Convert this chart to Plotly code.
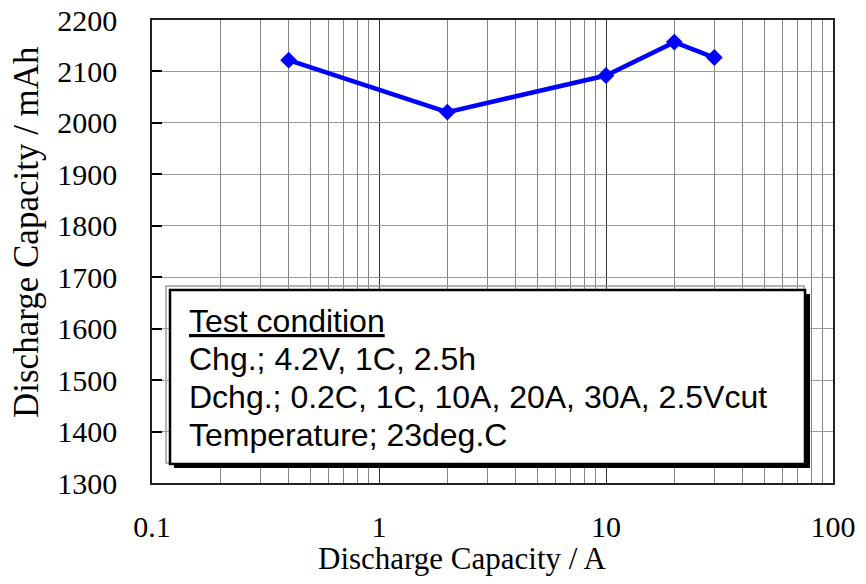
import plotly.graph_objects as go

# ---- data ----
current_A = [0.4, 2, 10, 20, 30]
capacity_mAh = [2122, 2021, 2092, 2157, 2127]

x_tickvals = [0.1, 1, 10, 100]
x_ticktext = ["0.1", "1", "10", "100"]
y_range = [1300, 2200]

box_lines = [
    "<u>Test condition</u>",
    "Chg.; 4.2V, 1C, 2.5h",
    "Dchg.; 0.2C, 1C, 10A, 20A, 30A, 2.5Vcut",
    "Temperature; 23deg.C",
]

# ---- layout geometry (page pixels; page body has an 8px margin) ----
OFF = 8
W, H = 866 - OFF, 584 - OFF
L, R, T, B = 152, 833, 20, 483  # plot area in page pixels


def px(x):
    return (x - L) / (R - L)


def py(y):
    return (B - y) / (B - T)


SERIF = "Liberation Serif, Times New Roman, serif"
SANS = "Liberation Sans, Arial, sans-serif"

fig = go.Figure()
fig.add_trace(go.Scatter(
    x=current_A, y=capacity_mAh, mode="lines+markers",
    line=dict(color="#0000FF", width=4.5),
    marker=dict(symbol="diamond", size=13, color="#0000FF"),
    showlegend=False, cliponaxis=False,
))

fig.update_layout(
    width=W, height=H,
    margin=dict(l=L - OFF, r=866 - R, t=T - OFF, b=584 - B, autoexpand=False),
    paper_bgcolor="white", plot_bgcolor="white",
    xaxis=dict(
        type="log", range=[-1, 2], automargin=False,
        tickvals=x_tickvals, ticktext=x_ticktext,
        showgrid=True, gridcolor="#333333", gridwidth=1,
        minor=dict(dtick="D1", showgrid=True, gridcolor="#858585", gridwidth=1),
        showline=True, linecolor="#222", linewidth=1.5, mirror=True,
        ticks="", tickfont=dict(family=SERIF, size=30, color="black"),
        ticklabelstandoff=16, ticklabeloverflow="allow", zeroline=False,
    ),
    yaxis=dict(
        range=y_range, dtick=100, automargin=False,
        showgrid=True, gridcolor="#9a9a9a", gridwidth=1,
        showline=True, linecolor="#222", linewidth=1.5, mirror=True,
        ticks="inside", ticklen=10, tickwidth=1.5, tickcolor="black",
        tickfont=dict(family=SERIF, size=30, color="black"),
        ticklabelstandoff=27, ticklabeloverflow="allow", zeroline=False,
    ),
)

# text box (gray outline, black shadow, white box)
fig.add_shape(type="rect", xref="paper", yref="paper",
              x0=px(166), x1=px(804), y0=py(463), y1=py(286),
              line=dict(color="#9a9a9a", width=1.5), fillcolor="rgba(0,0,0,0)")
fig.add_shape(type="rect", xref="paper", yref="paper",
              x0=px(174), x1=px(810), y0=py(468), y1=py(294),
              line=dict(width=0), fillcolor="black")
fig.add_shape(type="rect", xref="paper", yref="paper",
              x0=px(170), x1=px(805), y0=py(464), y1=py(290),
              line=dict(color="black", width=2.5), fillcolor="white")

line_centers = [320.5, 358.5, 396.8, 435.0]
for txt, yc in zip(box_lines, line_centers):
    fig.add_annotation(xref="paper", yref="paper", x=px(187), y=py(yc),
                       xanchor="left", yanchor="middle", showarrow=False,
                       text=txt, font=dict(family=SANS, size=32, color="black"))

# axis titles
fig.add_annotation(xref="paper", yref="paper", x=px(462), y=py(558),
                   xanchor="center", yanchor="middle", showarrow=False,
                   text="Discharge Capacity / A",
                   font=dict(family=SERIF, size=31, color="black"))
fig.add_annotation(xref="paper", yref="paper", x=px(26), y=py(232),
                   xanchor="center", yanchor="middle", showarrow=False,
                   textangle=-90, text="Discharge Capacity / mAh",
                   font=dict(family=SERIF, size=35, color="black"))

fig.write_html("out.html")
